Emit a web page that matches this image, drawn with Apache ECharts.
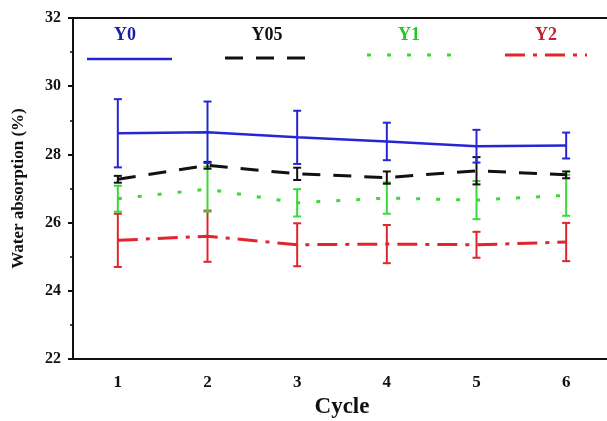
<!DOCTYPE html>
<html>
<head>
<meta charset="utf-8">
<script src="https://cdn.jsdelivr.net/npm/echarts@6/dist/echarts.min.js"></script>
<style>
  html, body { margin: 0; padding: 0; background: #fff; }
  #chart { width: 607px; height: 421px; }
</style>
</head>
<body>
<div id="chart"></div>
<script>
// Water absorption (%) per wetting/drying cycle, mean and standard deviation
const cycles = ['1', '2', '3', '4', '5', '6'];
const seriesNames = ['Y0', 'Y05', 'Y1', 'Y2'];

const y0Mean  = [28.62, 28.65, 28.50, 28.38, 28.24, 28.26];
const y0Err   = [1.00, 0.90, 0.78, 0.55, 0.48, 0.38];
const y05Mean = [27.27, 27.68, 27.43, 27.32, 27.52, 27.40];
const y05Err  = [0.10, 0.10, 0.18, 0.18, 0.40, 0.10];
const y1Mean  = [26.70, 26.98, 26.58, 26.72, 26.66, 26.80];
const y1Err   = [0.38, 0.66, 0.40, 0.46, 0.56, 0.60];
const y2Mean  = [25.48, 25.60, 25.35, 25.37, 25.35, 25.43];
const y2Err   = [0.78, 0.75, 0.63, 0.56, 0.38, 0.56];

const yTicks = [22, 24, 26, 28, 30, 32];

const colors     = ['#2626d6', '#111111', '#3ad83a', '#e0262c'];
const textColors = ['#1c1ca6', '#111111', '#22c822', '#c81e30'];
const dashes     = ['solid', [18, 13], [4, 16], [20, 8, 4, 8]];
const means = [y0Mean, y05Mean, y1Mean, y2Mean];
const errs  = [y0Err, y05Err, y1Err, y2Err];

const FONT = '"Liberation Serif", "Times New Roman", serif';

function errorSeries(idx) {
  const data = means[idx].map((m, i) => [i, m - errs[idx][i], m + errs[idx][i]]);
  return {
    type: 'custom',
    name: seriesNames[idx] + ' error',
    xAxisIndex: 0, yAxisIndex: 0,
    data: data,
    z: 3,
    renderItem: function (params, api) {
      const x = api.value(0);
      const lo = api.coord([x, api.value(1)]);
      const hi = api.coord([x, api.value(2)]);
      const cap = 4;
      const st = { stroke: colors[idx], lineWidth: 2 };
      return {
        type: 'group',
        children: [
          { type: 'line', shape: { x1: lo[0], y1: lo[1], x2: hi[0], y2: hi[1] }, style: st },
          { type: 'line', shape: { x1: lo[0] - cap, y1: lo[1], x2: lo[0] + cap, y2: lo[1] }, style: st },
          { type: 'line', shape: { x1: hi[0] - cap, y1: hi[1], x2: hi[0] + cap, y2: hi[1] }, style: st }
        ]
      };
    },
    silent: true
  };
}

function lineSeries(idx) {
  return {
    type: 'line',
    name: seriesNames[idx],
    data: means[idx],
    symbol: 'none',
    z: 4,
    lineStyle: { color: colors[idx], width: idx === 0 ? 2.5 : 3, type: dashes[idx] },
    silent: true
  };
}

// Legend: name above a short sample of each line style
const legendX = [[87, 172], [225, 313], [367, 452], [505, 587]];
const legendTextX = [125, 267, 409, 546];
const legendLineY = [59, 58, 55, 55];
const legendGraphics = [];
seriesNames.forEach((name, i) => {
  legendGraphics.push({
    type: 'text',
    x: legendTextX[i],
    y: 35,
    style: {
      text: name, align: 'center', verticalAlign: 'middle',
      fill: textColors[i], font: 'bold 18px ' + FONT
    }
  });
  legendGraphics.push({
    type: 'line',
    shape: { x1: legendX[i][0], y1: legendLineY[i], x2: legendX[i][1], y2: legendLineY[i] },
    style: {
      stroke: colors[i], lineWidth: i === 0 ? 2.5 : 3,
      lineDash: dashes[i] === 'solid' ? null : dashes[i]
    }
  });
});

const chart = echarts.init(document.getElementById('chart'), null, { renderer: 'canvas' });
chart.setOption({
  animation: false,
  backgroundColor: '#fff',
  grid: { left: 73, right: -4, top: 18, bottom: 62, containLabel: false, outerBoundsMode: 'none' },
  xAxis: [{
    type: 'category',
    data: cycles,
    boundaryGap: true,
    name: 'Cycle',
    nameLocation: 'middle',
    nameGap: 31,
    nameTextStyle: { fontFamily: FONT, fontWeight: 'bold', fontSize: 23, color: '#111' },
    axisLine: { lineStyle: { color: '#111', width: 2 } },
    axisTick: { alignWithLabel: true, inside: false, length: 6, lineStyle: { color: '#111', width: 2 } },
    axisLabel: { margin: 15, fontFamily: FONT, fontWeight: 'bold', fontSize: 17, color: '#111' },
    splitLine: { show: false }
  }, {
    type: 'category',
    data: cycles,
    position: 'top',
    axisLine: { lineStyle: { color: '#111', width: 2 } },
    axisTick: { show: false },
    axisLabel: { show: false },
    splitLine: { show: false }
  }],
  yAxis: {
    type: 'value',
    min: yTicks[0],
    max: yTicks[yTicks.length - 1],
    interval: 2,
    name: 'Water absorption (%)',
    nameLocation: 'middle',
    nameGap: 46,
    nameTextStyle: { fontFamily: FONT, fontWeight: 'bold', fontSize: 17, color: '#111' },
    axisLine: { show: true, lineStyle: { color: '#111', width: 2 } },
    axisTick: { show: true, inside: false, length: 5, lineStyle: { color: '#111', width: 2 } },
    minorTick: { show: true, splitNumber: 2, length: 3, lineStyle: { color: '#111', width: 1.5 } },
    axisLabel: { margin: 12, fontFamily: FONT, fontWeight: 'bold', fontSize: 16, color: '#111' },
    splitLine: { show: false }
  },
  graphic: legendGraphics,
  series: [
    lineSeries(0), lineSeries(1), lineSeries(2), lineSeries(3),
    errorSeries(3), errorSeries(2), errorSeries(1), errorSeries(0)
  ]
});
</script>
</body>
</html>
